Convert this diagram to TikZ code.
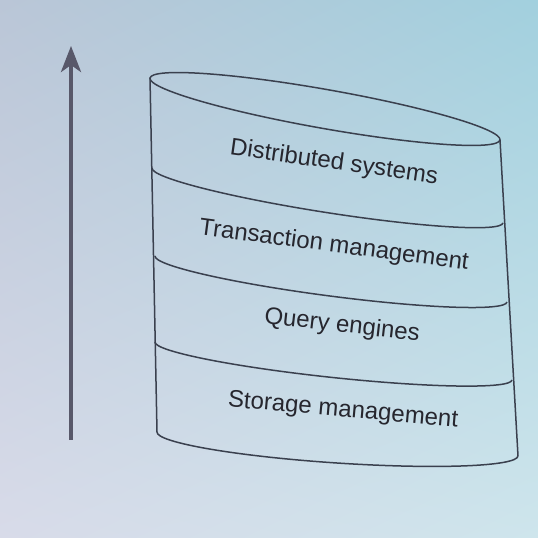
\documentclass[tikz,border=0pt]{standalone}
\usepackage{fontspec}
\setmainfont{Liberation Sans}
\usepackage{tikz}
\usetikzlibrary{arrows.meta, shadings}
\definecolor{bgtopleft}{RGB}{186,198,215}
\definecolor{bgtopright}{RGB}{162,208,222}
\definecolor{bglowleft}{RGB}{216,219,233}
\definecolor{bglowright}{RGB}{206,229,236}
\definecolor{rimline}{RGB}{58,64,78}
\definecolor{arrowgrey}{RGB}{88,88,106}
\definecolor{labeltext}{RGB}{38,38,46}

\begin{document}
\begin{tikzpicture}[
    x=1pt, y=1pt,
    rim/.style={draw=rimline, line width=1.5pt},
    layer/.style={font=\fontsize{24}{28}\selectfont, text=labeltext, inner sep=0pt},
    level/.style={-{Stealth[length=26pt, width=20pt, inset=7pt]}, draw=arrowgrey, line width=4pt}
]

% Background
\shade[upper left=bgtopleft, upper right=bgtopright, lower left=bglowleft, lower right=bglowright] (0,0) rectangle (538,538);
\useasboundingbox (0,0) rectangle (538,538);

% Arrow
\coordinate (abot) at (71,98);
\coordinate (atop) at (71,492);
\draw[level] (abot) -- (atop);

% Cylinder sides
\coordinate (tl) at (150,460);
\coordinate (tr) at (500,398);
\coordinate (bl) at (157,106);
\coordinate (br) at (518,82);
\draw[rim] (tl) -- (bl);
\draw[rim] (tr) -- (br);

% Top rim
\draw[rim, shift={(325,429)}, rotate=-10.04] (0,0) ellipse[x radius=177.7, y radius=19.5];

% Layer borders
\draw[rim, shift={(327.5,342.5)}, rotate=-8.9] (-177.6,0) arc[start angle=180, end angle=360, x radius=177.6, y radius=17];
\draw[rim, shift={(331,259)}, rotate=-7.45] (-177.5,0) arc[start angle=180, end angle=360, x radius=177.5, y radius=17];
\draw[rim, shift={(333.5,177)}, rotate=-6.08] (-179.5,0) arc[start angle=180, end angle=360, x radius=179.5, y radius=16.5];
\draw[rim, shift={(337.5,94)}, rotate=-3.8] (-180.9,0) arc[start angle=180, end angle=360, x radius=180.9, y radius=19];

% Labels
\node[layer, rotate=-8] (dist) at (334,375) {Distributed systems};
\node[layer, rotate=-7.5] (trans) at (334,292) {Transaction management};
\node[layer, rotate=-6.5] (query) at (342,212) {Query engines};
\node[layer, rotate=-5] (store) at (343,127) {Storage management};

\end{tikzpicture}
\end{document}
